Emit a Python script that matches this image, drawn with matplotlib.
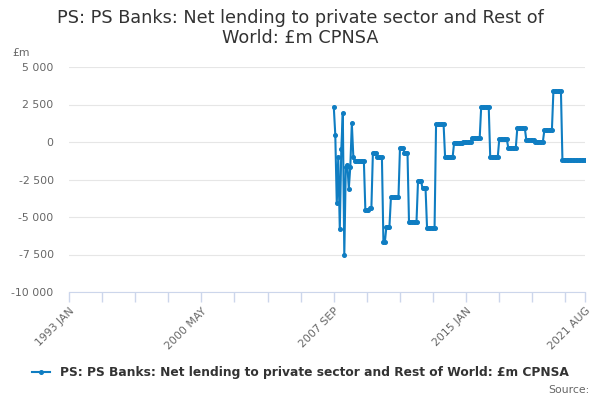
import matplotlib.pyplot as plt
import numpy as np
import pandas as pd

plt.rcParams['font.family'] = ['DejaVu Sans']

# monthly categories 1993 JAN .. 2021 AUG
months = pd.date_range('1993-01-01', '2021-08-01', freq='MS')
labels = [d.strftime('%Y %b').upper() for d in months]

first_month = '2007 SEP'
# values £m, 2007 SEP .. 2021 AUG
v2007 = [2350, 500, -4090, -980]
v2008 = [-5820, -490, 1910, -7530, -1640, -1500, -3100, -1640, 1250, -980, -1250, -1250]
v2009 = [-1250, -1250, -1250, -1250, -1250, -4550, -4550, -4550, -4400, -4400, -760, -760]
v2010 = [-760, -1000, -1000, -1000, -1000, -6640, -6640, -5640, -5640, -5640, -3690, -3690]
v2011 = [-3690, -3690, -3690, -3690, -420, -420, -420, -710, -710, -710, -5300, -5300]
v2012 = [-5300, -5300, -5300, -5300, -2600, -2600, -2600, -3090, -3090, -3090, -5710, -5710]
v2013 = [-5710, -5710, -5710, -5710, 1180, 1180, 1180, 1180, 1180, 1180, -1020, -1020]
v2014 = [-1020, -1020, -1020, -1020, -50, -50, -50, -50, -50, -50, 0, 0]
v2015 = [0, 0, 0, 0, 270, 270, 270, 270, 270, 270, 2350, 2350]
v2016 = [2350, 2350, 2350, 2350, -1020, -1020, -1020, -1020, -1020, -1020, 180, 180]
v2017 = [180, 180, 180, 180, -380, -380, -380, -380, -380, -380, 910, 910]
v2018 = [910, 910, 910, 910, 130, 130, 130, 130, 130, 130, 20, 20]
v2019 = [20, 20, 20, 20, 800, 800, 800, 800, 800, 800, 3400, 3400]
v2020 = [3400, 3400, 3400, 3400, -1200, -1200, -1200, -1200, -1200, -1200, -1200, -1200]
v2021 = [-1200, -1200, -1200, -1200, -1200, -1200, -1200, -1200]

values = (v2007 + v2008 + v2009 + v2010 + v2011 + v2012 + v2013 + v2014
          + v2015 + v2016 + v2017 + v2018 + v2019 + v2020 + v2021)

series = pd.Series(np.nan, index=labels)
start = labels.index(first_month)
series.iloc[start:start + len(values)] = values

shown_labels = ['1993 JAN', '2000 MAY', '2007 SEP', '2015 JAN', '2021 AUG']
y_ticks = [5000, 2500, 0, -2500, -5000, -7500, -10000]

title = 'PS: PS Banks: Net lending to private sector and Rest of\nWorld: £m CPNSA'
series_name = 'PS: PS Banks: Net lending to private sector and Rest of World: £m CPNSA'
line_col = '#0f7dc2'

fig = plt.figure(figsize=(6, 4), dpi=100)
ax = fig.add_axes([0.115, 0.27, 0.86, 0.5625])

x = np.arange(len(labels))
ax.plot(x, series.values, color=line_col, linewidth=1.5, marker='o',
        markersize=2.6, label=series_name)

ax.set_xlim(0, len(labels) - 1)
ax.set_ylim(-10000, 5000)
ax.set_yticks(y_ticks)
ax.set_yticklabels([f'{v:,}'.replace(',', ' ') for v in y_ticks],
                   fontsize=7.8, color='#666666')
ax.tick_params(axis='y', length=0, pad=11)
ax.grid(axis='y', color='#e6e6e6', linewidth=0.8)
ax.set_axisbelow(True)

minor = list(range(0, len(labels), 22)) + [len(labels) - 1]
ax.set_xticks(minor, minor=True)
ax.set_xticks([labels.index(l) for l in shown_labels])
ax.set_xticklabels(shown_labels, rotation=45, ha='right', rotation_mode='anchor',
                   fontsize=7.8, color='#666666')
ax.tick_params(axis='x', which='both', length=7, color='#ccd6eb', width=1,
               direction='out', pad=3)

for s in ['top', 'right', 'left']:
    ax.spines[s].set_visible(False)
ax.spines['bottom'].set_color('#ccd6eb')

fig.text(0.5, 0.978, title, ha='center', va='top', fontsize=12.7,
         color='#333333', linespacing=1.15)
fig.text(0.02, 0.868, '£m', ha='left', va='center', fontsize=7.8, color='#666666')

leg = fig.legend(loc='center', bbox_to_anchor=(0.5, 0.068), frameon=False,
                 handlelength=1.5, prop={'weight': 'bold', 'size': 8.8})
for t in leg.get_texts():
    t.set_color('#333333')
fig.text(0.982, 0.025, 'Source:', ha='right', va='center', fontsize=7.8, color='#666666')

fig.savefig('out.png', dpi=100)
